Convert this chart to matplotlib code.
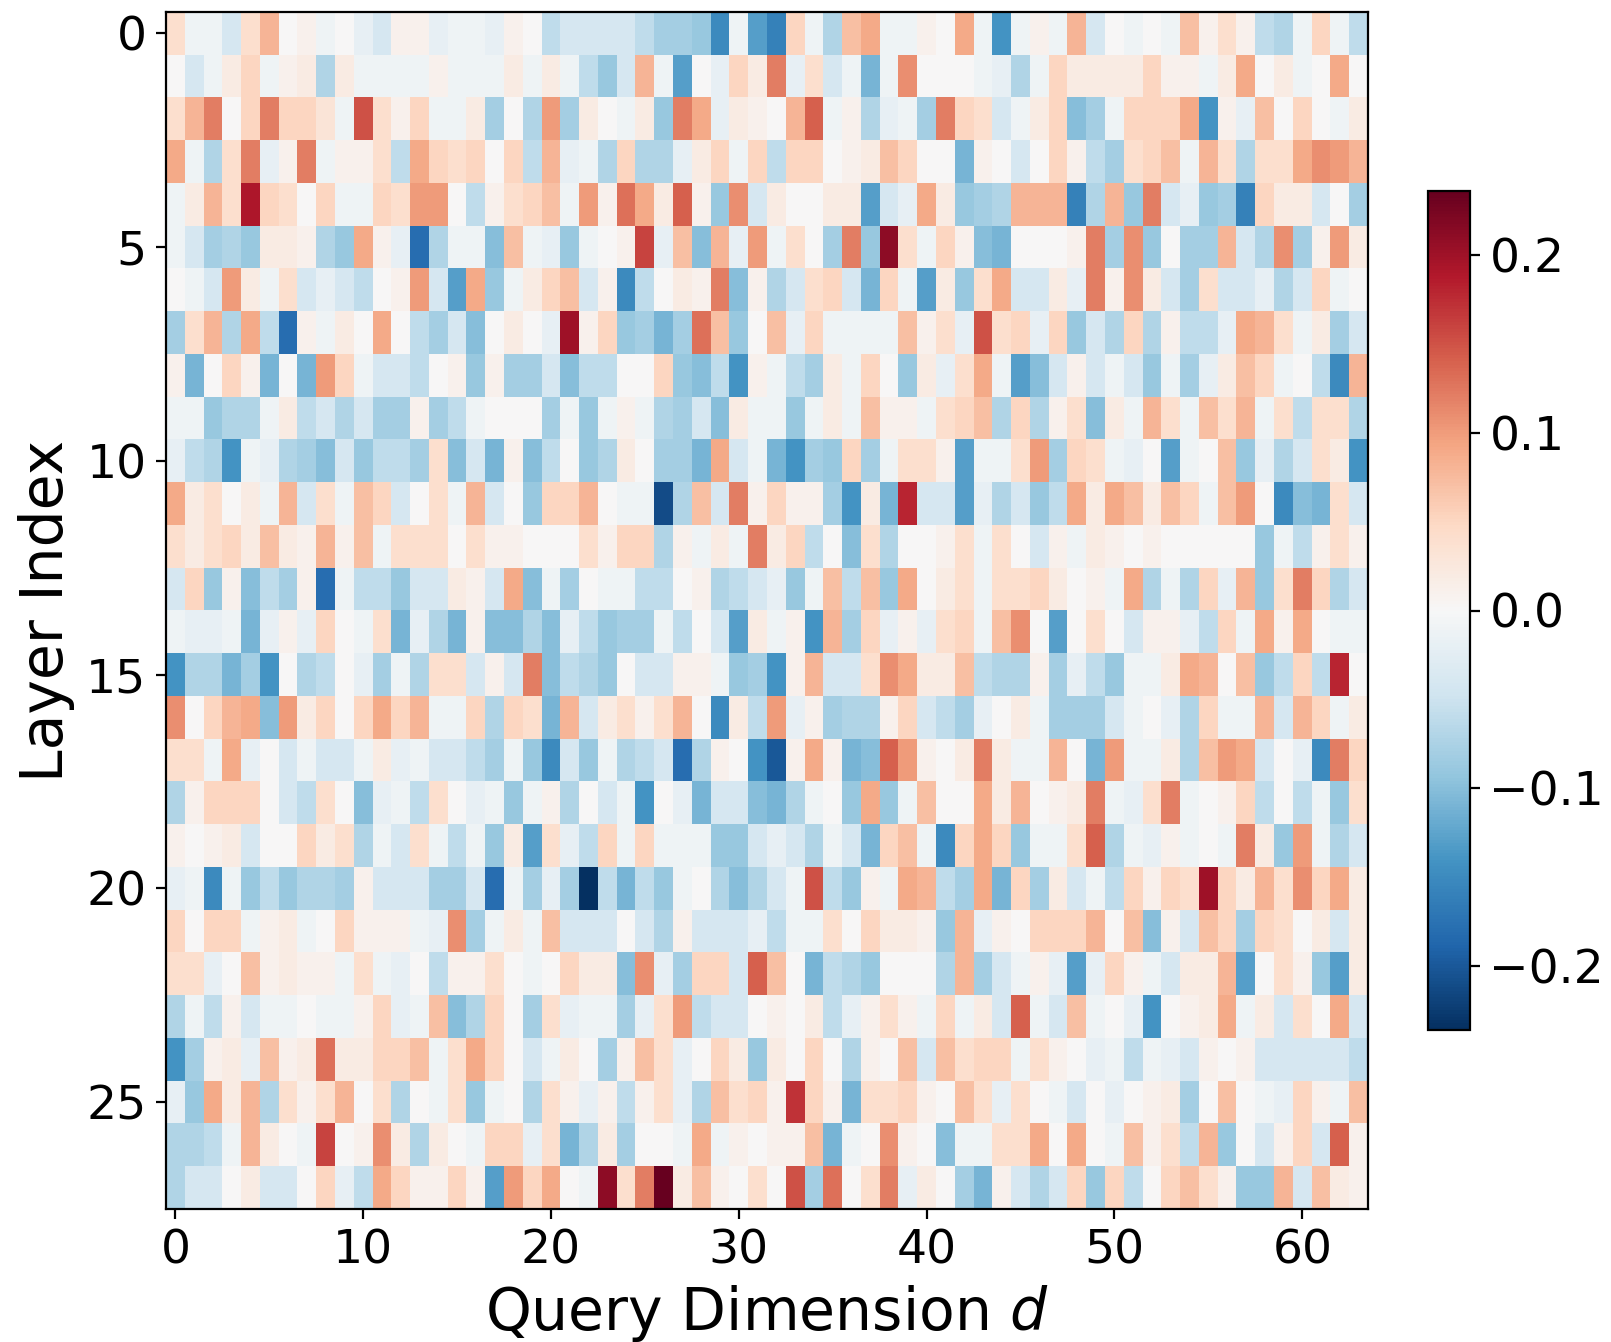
import numpy as np
import matplotlib
matplotlib.use('Agg')
import matplotlib.pyplot as plt

# cell values, in units of 0.01, one list per layer
row_00 = [4,-1,-1,-4,4,8,0,1,-1,0,-2,-4,1,1,-2,-1,-1,-2,1,0,-6,-4,-4,-4,-4,-6,-8,-8,-9,-15,-1,-13,-16,5,-1,-7,7,9,-1,-1,1,0,9,-1,-14,-1,1,-1,8,-4,0,-1,0,-1,7,1,4,1,-6,-7,-1,5,-1,-6]
row_01 = [0,-4,-1,2,5,-1,1,2,-7,2,-1,-1,-1,-1,1,-1,-1,-1,2,-1,2,-1,-6,-9,-4,8,-1,-13,0,-2,5,2,12,-2,4,-4,-1,-11,-1,11,0,0,0,-1,-2,-7,-1,5,2,2,2,2,5,1,1,-1,2,9,0,2,-1,0,9,0]
row_02 = [4,8,12,0,5,12,5,5,3,-1,15,4,1,5,-1,-1,2,-8,0,-7,10,-8,2,0,-1,2,-9,12,9,-2,2,1,0,8,14,-1,1,-7,-2,-1,-8,12,5,4,-4,-1,2,5,-10,-8,-1,5,5,5,9,-14,1,-2,7,0,5,0,-1,2]
row_03 = [9,-1,-7,4,12,-2,1,12,-1,1,1,4,-6,9,5,4,5,0,5,-6,8,-2,-1,-7,5,-7,-7,-2,2,5,-1,5,-6,5,5,0,1,2,7,5,0,0,-11,1,0,-4,0,5,1,-6,-8,4,5,7,-1,8,4,-7,4,4,9,11,10,8]
row_04 = [-1,2,8,4,19,5,4,0,5,-1,-1,5,4,10,10,0,-6,1,4,5,7,-1,10,1,13,9,2,14,1,-9,11,-4,2,0,0,2,2,-13,-4,-2,9,2,-9,-8,-7,8,8,8,-16,-7,8,-9,12,-4,-2,-9,-8,-16,5,2,2,-4,0,-8]
row_05 = [-1,-4,-8,-7,-9,2,2,1,-7,-9,9,1,-2,-18,-7,-1,-1,-10,7,-1,-2,-9,-1,0,1,16,-2,7,-10,8,-2,10,-1,4,0,-8,12,-9,21,4,-1,5,1,-10,-11,0,0,0,1,12,-8,11,-9,0,-8,-8,8,-4,-7,11,-8,1,10,2]
row_06 = [0,-1,-4,10,2,-1,4,-4,-2,-4,-6,0,1,10,-4,-13,9,-9,-1,2,5,7,-4,1,-15,-6,0,2,1,12,-10,1,-7,-4,4,5,-4,-11,5,-1,-13,2,-9,4,9,-4,-4,2,-2,12,1,11,2,-4,-8,4,-4,-4,-2,-7,-4,5,-1,0]
row_07 = [-8,4,8,-7,9,-6,-18,1,-1,2,0,9,0,-6,-8,-4,-10,0,2,0,-2,20,1,5,-9,-8,-11,-8,13,7,-9,0,7,-2,5,-1,-1,-1,-1,7,1,4,-2,15,4,5,-2,5,-9,-4,-7,5,-7,1,-6,-6,-2,9,8,4,-1,2,-8,-4]
row_08 = [1,-11,0,5,1,-11,0,-11,10,5,-1,-4,-4,-6,0,1,-9,1,-8,-8,-4,-10,-6,-6,0,0,5,-9,-10,-6,-14,1,-1,-6,-8,2,-1,5,0,-9,2,-2,4,9,-1,-13,-10,-4,1,-4,-1,-4,-9,-1,-8,-2,2,7,5,-1,0,-6,-15,8]
row_09 = [-1,-1,-9,-7,-7,-1,2,-6,-4,-7,-4,-8,-8,1,-8,-6,-1,0,0,0,-8,-1,-9,-1,1,-1,-7,-8,-4,-10,2,-1,-1,-9,-1,2,-1,7,1,1,-1,4,5,7,-7,5,-7,1,4,-10,2,-1,8,4,-1,7,4,8,-1,4,-6,4,4,-7]
row_10 = [-2,-6,-7,-14,-1,-2,-7,-8,-10,-4,-9,-6,-6,-8,4,-10,-4,-11,1,-10,-6,0,-9,-7,2,0,-8,-8,-11,9,-4,-1,-11,-14,-8,-9,5,-8,-1,4,4,1,-13,-1,-1,4,10,-8,5,4,-1,-2,0,-13,-1,0,7,-9,-2,-7,-4,4,2,-14]
row_11 = [9,2,4,0,2,-1,8,-4,4,-1,7,5,-4,0,4,-1,8,-4,0,-9,5,5,8,0,-1,-1,-21,-7,7,-4,12,1,5,1,1,-8,-14,2,-11,18,-4,-4,-13,-2,-7,-4,-9,-6,9,2,9,7,2,7,5,-1,7,10,0,-15,-10,-11,4,-4]
row_12 = [4,2,4,5,2,7,2,1,8,1,7,-1,4,4,4,0,4,1,1,0,0,0,4,1,5,5,-7,1,-1,2,-1,12,2,5,-6,0,-10,4,-7,0,0,1,4,-1,4,0,-4,1,-1,2,1,0,1,0,0,0,0,0,-9,-1,-6,1,4,1]
row_13 = [-4,5,-9,1,-10,-6,-8,1,-18,-1,-6,-6,-9,-4,-4,2,1,-4,9,-10,-1,-8,0,-1,-1,-6,-6,0,1,-7,-6,-4,-2,-9,-1,7,-6,7,-9,9,0,2,4,-1,4,4,5,2,0,1,-1,9,-7,-1,-7,5,-2,8,-9,4,12,5,-7,-4]
row_14 = [-1,-2,-2,-1,-11,-2,1,-2,5,0,-1,4,-11,-2,-7,-11,1,-10,-10,-7,-10,-2,-6,-9,-8,-8,-1,-6,0,-4,-13,2,-1,1,-14,8,-8,5,-2,1,-2,4,5,-1,7,11,0,-13,0,4,0,-4,1,1,-2,-6,5,-1,9,1,9,0,-1,-1]
row_15 = [-14,-7,-7,-11,-8,-14,0,-7,-6,0,-2,-8,-1,-7,4,4,-4,1,-4,12,-10,-6,-7,-9,0,-4,-4,1,1,-1,-9,-8,-14,1,8,-4,-4,4,11,9,2,2,7,-6,-7,-7,1,-8,-2,-6,-9,-1,-1,2,9,8,0,7,-9,-6,5,-6,18,0]
row_16 = [11,0,5,8,9,-10,10,2,5,0,5,9,5,8,-1,-1,5,-7,5,4,-11,8,-4,2,4,1,4,8,0,-15,2,-6,10,-2,1,-8,-7,-7,1,5,-4,-6,-8,-2,0,2,-1,-8,-8,-8,-4,-1,0,-2,-7,5,-1,-1,8,-4,8,5,-1,2]
row_17 = [4,4,-1,9,-2,0,-4,-1,-4,-4,-1,2,-2,-1,-4,-4,-6,-8,-1,-9,-15,-4,-9,-1,-7,-6,-4,-18,-7,1,0,-14,-20,1,9,1,-11,-10,14,10,1,0,2,12,2,-1,-1,8,0,-11,10,-1,-1,2,-7,7,10,9,-4,0,-2,-15,12,5]
row_18 = [-7,1,5,5,5,0,-4,-6,4,0,-10,-2,-1,-6,4,0,-2,-1,-9,-1,1,-7,0,-4,-1,-14,0,-2,-11,-4,-4,-10,-11,-7,-1,0,-9,9,-9,-1,7,0,0,9,2,8,0,1,2,12,-1,-2,4,12,-1,0,1,5,-6,0,-6,-1,-9,4]
row_19 = [1,0,1,2,-4,0,0,5,2,4,-7,-1,-4,4,-1,-6,-1,-9,2,-13,4,-2,-6,5,-1,5,-1,-1,-1,-9,-9,-4,-2,-4,-7,-1,-4,-11,5,7,-1,-15,5,9,5,-9,-1,-1,4,14,-7,-1,-2,1,-1,0,-1,12,2,-9,10,-1,-7,-4]
row_20 = [-2,-1,-15,-1,-9,-6,-9,-7,-7,-8,1,-4,-4,-4,-8,-8,-4,-18,-1,-8,-2,-8,-24,-6,-11,-6,-9,-1,0,-7,-10,-7,-4,-1,15,-6,-9,1,-1,9,8,-6,-8,9,-11,5,-8,2,-4,-1,-6,5,1,5,4,20,5,2,8,4,11,5,9,2]
row_21 = [5,0,5,5,-1,1,2,-1,0,5,1,1,1,-1,-2,11,-8,-1,2,-1,7,-4,-4,-4,0,-4,-7,1,-4,-4,-4,-2,-6,-1,-1,4,0,5,2,2,1,-9,8,-2,1,0,5,5,5,8,0,7,-10,1,-4,7,5,-8,5,4,0,2,-4,2]
row_22 = [4,4,-2,0,7,1,2,1,1,-1,4,-1,-2,0,-6,1,1,4,0,-1,0,5,2,2,-10,11,-2,-8,5,5,-4,14,7,0,-11,-6,-7,-9,0,0,0,-7,8,-8,-4,-1,1,-2,-13,-2,5,1,-1,-4,2,2,8,-13,0,4,1,-9,-13,2]
row_23 = [-7,-1,-6,1,-4,-1,-1,0,-1,-1,1,5,-2,-1,7,-10,-7,5,0,-8,4,-2,-1,-1,-8,-2,4,10,-6,-4,-4,0,1,0,2,-6,-2,1,4,1,-1,5,-1,2,-4,14,-1,-4,7,-1,0,-2,-14,0,1,2,9,-1,2,-4,4,0,9,-4]
row_24 = [-14,-8,1,2,-2,7,1,2,13,2,2,5,5,7,-1,4,9,5,0,-4,-1,2,0,-8,1,7,4,-2,0,5,2,-9,2,0,5,0,-7,1,0,7,-4,7,4,5,5,-1,4,1,0,-2,-1,-6,-1,-2,-4,1,0,1,-4,-4,-4,-4,-4,-6]
row_25 = [-2,-9,9,2,8,-7,4,1,4,8,0,4,-7,0,-1,4,-9,-1,0,-7,4,1,-2,1,-6,1,4,-2,-7,7,4,5,1,17,5,1,-11,4,4,5,1,0,7,4,-2,4,0,-1,-4,0,-2,0,1,2,-8,0,7,0,-1,-2,5,1,-1,7]
row_26 = [-7,-7,-6,-1,8,2,0,-1,16,0,1,11,2,-7,2,0,-1,5,5,-2,4,-11,-7,2,-8,0,0,-1,9,-1,1,0,1,1,7,-11,-1,0,11,1,0,-10,-1,-1,4,4,9,0,9,0,-1,7,1,4,-6,8,-9,0,-4,1,5,-4,14,1]
row_27 = [-7,-4,-4,0,2,-4,-4,0,5,-2,-6,9,5,1,1,5,1,-13,10,5,9,0,-1,21,4,12,24,2,7,1,0,4,0,15,-8,13,0,4,12,-2,2,0,-8,-11,1,-4,-7,-4,5,-9,5,-6,0,5,7,4,1,-9,-9,8,-4,7,2,1]

rows = [row_00, row_01, row_02, row_03, row_04, row_05, row_06, row_07, row_08, row_09,
        row_10, row_11, row_12, row_13, row_14, row_15, row_16, row_17, row_18, row_19,
        row_20, row_21, row_22, row_23, row_24, row_25, row_26, row_27]
data = np.array(rows) * 0.01

vmax = 0.2357
W, H = 1611, 1342

fig = plt.figure(figsize=(W / 200, H / 200), dpi=200)
ax = fig.add_axes([166 / W, 1 - 1209 / H, (1368 - 166) / W, (1209 - 12) / H])
cax = fig.add_axes([1428 / W, 1 - 1030 / H, (1470 - 1428) / W, (1030 - 191) / H])

im = ax.imshow(data, cmap='RdBu_r', vmin=-vmax, vmax=vmax, aspect='auto', interpolation='nearest')
ax.tick_params(labelsize=17)
ax.set_xlabel('Query Dimension $d$', fontsize=21, labelpad=3.5)
ax.set_ylabel('Layer Index', fontsize=21, labelpad=4)

cbar = fig.colorbar(im, cax=cax)
cbar.ax.tick_params(labelsize=17)

fig.savefig('out.png', dpi=200)
